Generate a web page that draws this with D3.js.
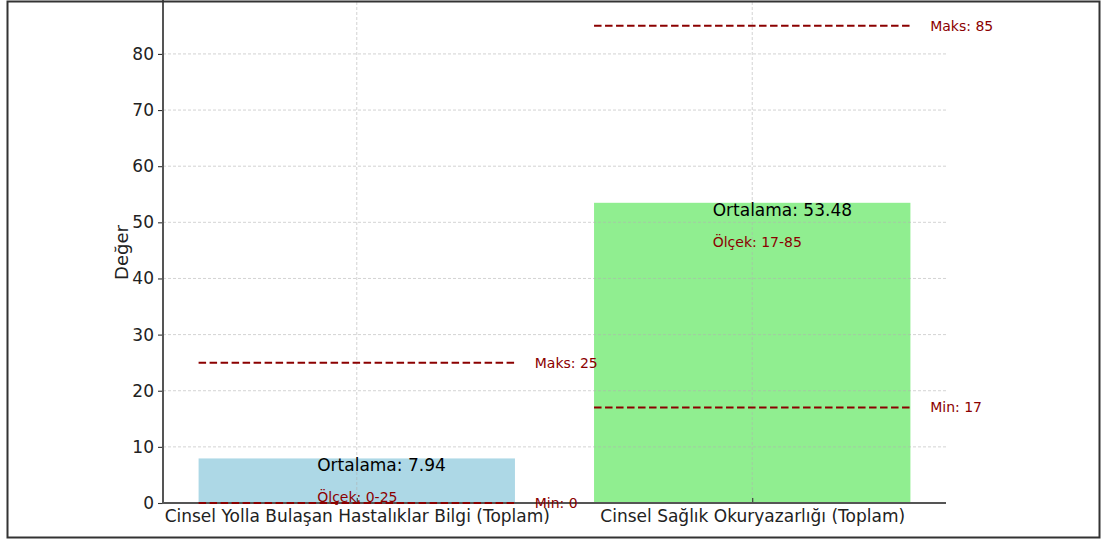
<!DOCTYPE html>
<html>
<head>
<meta charset="utf-8">
<script src="https://cdn.jsdelivr.net/npm/d3@7"></script>
<style>
  body { margin: 0; background: #fff; }
  svg { display: block; font-family: "DejaVu Sans", sans-serif; }
</style>
</head>
<body>
<script>
// chart values
const categories = ["Cinsel Yolla Bulaşan Hastalıklar Bilgi (Toplam)", "Cinsel Sağlık Okuryazarlığı (Toplam)"];
const means = [7.94, 53.48];
const mins = [0, 17];
const maxs = [25, 85];
const scaleLabels = ["Ölçek: 0-25", "Ölçek: 17-85"];
const barColors = ["#add8e6", "#90ee90"];
const yTicks = [0, 10, 20, 30, 40, 50, 60, 70, 80];

const W = 1101, H = 541;
const plotLeft = 163, plotRight = 946, plotTop = 2, plotBottom = 503;
const red = "#8b0000";

const svg = d3.select("body").append("svg")
    .attr("width", W).attr("height", H);

// x in category units like matplotlib, y linear
const x = d3.scaleLinear().domain([-0.49, 1.49]).range([plotLeft, plotRight]);
const y = d3.scaleLinear().domain([0, 89.25]).range([plotBottom, plotTop]);
const bw = x(0.8) - x(0);

const idx = d3.range(categories.length);

// bars
svg.selectAll(".bar")
    .data(idx)
    .enter().append("rect")
    .attr("class", "bar")
    .attr("x", i => x(i - 0.4))
    .attr("width", bw)
    .attr("y", i => y(means[i]))
    .attr("height", i => y(0) - y(means[i]))
    .attr("fill", i => barColors[i]);

// grid on top of bars
const grid = svg.append("g");
grid.selectAll(".hg").data(yTicks).enter().append("line")
    .attr("x1", plotLeft).attr("x2", plotRight)
    .attr("y1", d => y(d)).attr("y2", d => y(d))
    .attr("stroke", "#b0b0b0").attr("stroke-opacity", 0.7)
    .attr("stroke-width", 0.8).attr("stroke-dasharray", "3,2");
grid.selectAll(".vg").data(idx).enter().append("line")
    .attr("x1", i => x(i)).attr("x2", i => x(i))
    .attr("y1", plotTop).attr("y2", plotBottom)
    .attr("stroke", "#b0b0b0").attr("stroke-opacity", 0.7)
    .attr("stroke-width", 0.8).attr("stroke-dasharray", "3,2");

// min / max dashed lines
const refLines = [];
idx.forEach(i => {
    refLines.push({ i: i, v: mins[i], label: "Min: " + mins[i] });
    refLines.push({ i: i, v: maxs[i], label: "Maks: " + maxs[i] });
});

svg.selectAll(".ref")
    .data(refLines)
    .enter().append("line")
    .attr("x1", d => x(d.i - 0.4))
    .attr("x2", d => x(d.i + 0.4))
    .attr("y1", d => y(d.v)).attr("y2", d => y(d.v))
    .attr("stroke", red).attr("stroke-width", 2)
    .attr("stroke-dasharray", "7.5,3.5");

// axes
const yAxis = svg.append("g")
    .attr("transform", `translate(${plotLeft},0)`)
    .call(d3.axisLeft(y).tickValues(yTicks).tickSize(5).tickPadding(4));
yAxis.select(".domain").remove();
yAxis.selectAll(".tick line").attr("stroke", "#333").attr("stroke-width", 1.1);
yAxis.selectAll("text").attr("font-size", 17).attr("fill", "#222")
    .attr("font-family", "DejaVu Sans");

const xAxis = svg.append("g")
    .attr("transform", `translate(0,${plotBottom})`)
    .call(d3.axisBottom(x).tickValues(idx).tickFormat(i => categories[i]).tickSize(-5).tickPadding(7));
xAxis.select(".domain").remove();
xAxis.selectAll(".tick line").attr("stroke", "#333").attr("stroke-width", 1.1);
xAxis.selectAll("text").attr("font-size", 17).attr("fill", "#222")
    .attr("font-family", "DejaVu Sans");

// spines
svg.append("line").attr("x1", plotLeft).attr("x2", plotLeft).attr("y1", 0).attr("y2", plotBottom + 0.5)
    .attr("stroke", "#555").attr("stroke-width", 2);
svg.append("line").attr("x1", plotLeft - 1).attr("x2", plotRight).attr("y1", plotBottom).attr("y2", plotBottom)
    .attr("stroke", "#555").attr("stroke-width", 2);

// min line at zero drawn over the spine
svg.selectAll(".ref0")
    .data(refLines.filter(d => d.v === 0))
    .enter().append("line")
    .attr("x1", d => x(d.i - 0.4))
    .attr("x2", d => x(d.i + 0.4))
    .attr("y1", d => y(d.v)).attr("y2", d => y(d.v))
    .attr("stroke", red).attr("stroke-width", 2)
    .attr("stroke-dasharray", "7.5,3.5");

// y label
svg.append("text")
    .attr("transform", `translate(128,${(plotTop + plotBottom) / 2}) rotate(-90)`)
    .attr("text-anchor", "middle")
    .attr("font-size", 18).attr("fill", "#222")
    .text("Değer");

// mean and scale annotations
svg.selectAll(".meanLabel")
    .data(idx)
    .enter().append("text")
    .attr("x", i => x(i - 0.1))
    .attr("y", i => y(means[i]) + 13)
    .attr("font-size", 17).attr("fill", "#000")
    .text(i => "Ortalama: " + means[i].toFixed(2));

svg.selectAll(".scaleLabel")
    .data(idx)
    .enter().append("text")
    .attr("x", i => x(i - 0.1))
    .attr("y", i => y(means[i] - 5) + 16)
    .attr("font-size", 14).attr("fill", red)
    .text(i => scaleLabels[i]);

svg.selectAll(".refLabel")
    .data(refLines)
    .enter().append("text")
    .attr("x", d => x(d.i + 0.45))
    .attr("y", d => y(d.v))
    .attr("dy", "0.35em")
    .attr("font-size", 14).attr("fill", red)
    .text(d => d.label);

// outer frame
svg.append("rect")
    .attr("x", 7.5).attr("y", 1.5)
    .attr("width", 1092).attr("height", 536)
    .attr("fill", "none").attr("stroke", "#333").attr("stroke-width", 2);
</script>
</body>
</html>
